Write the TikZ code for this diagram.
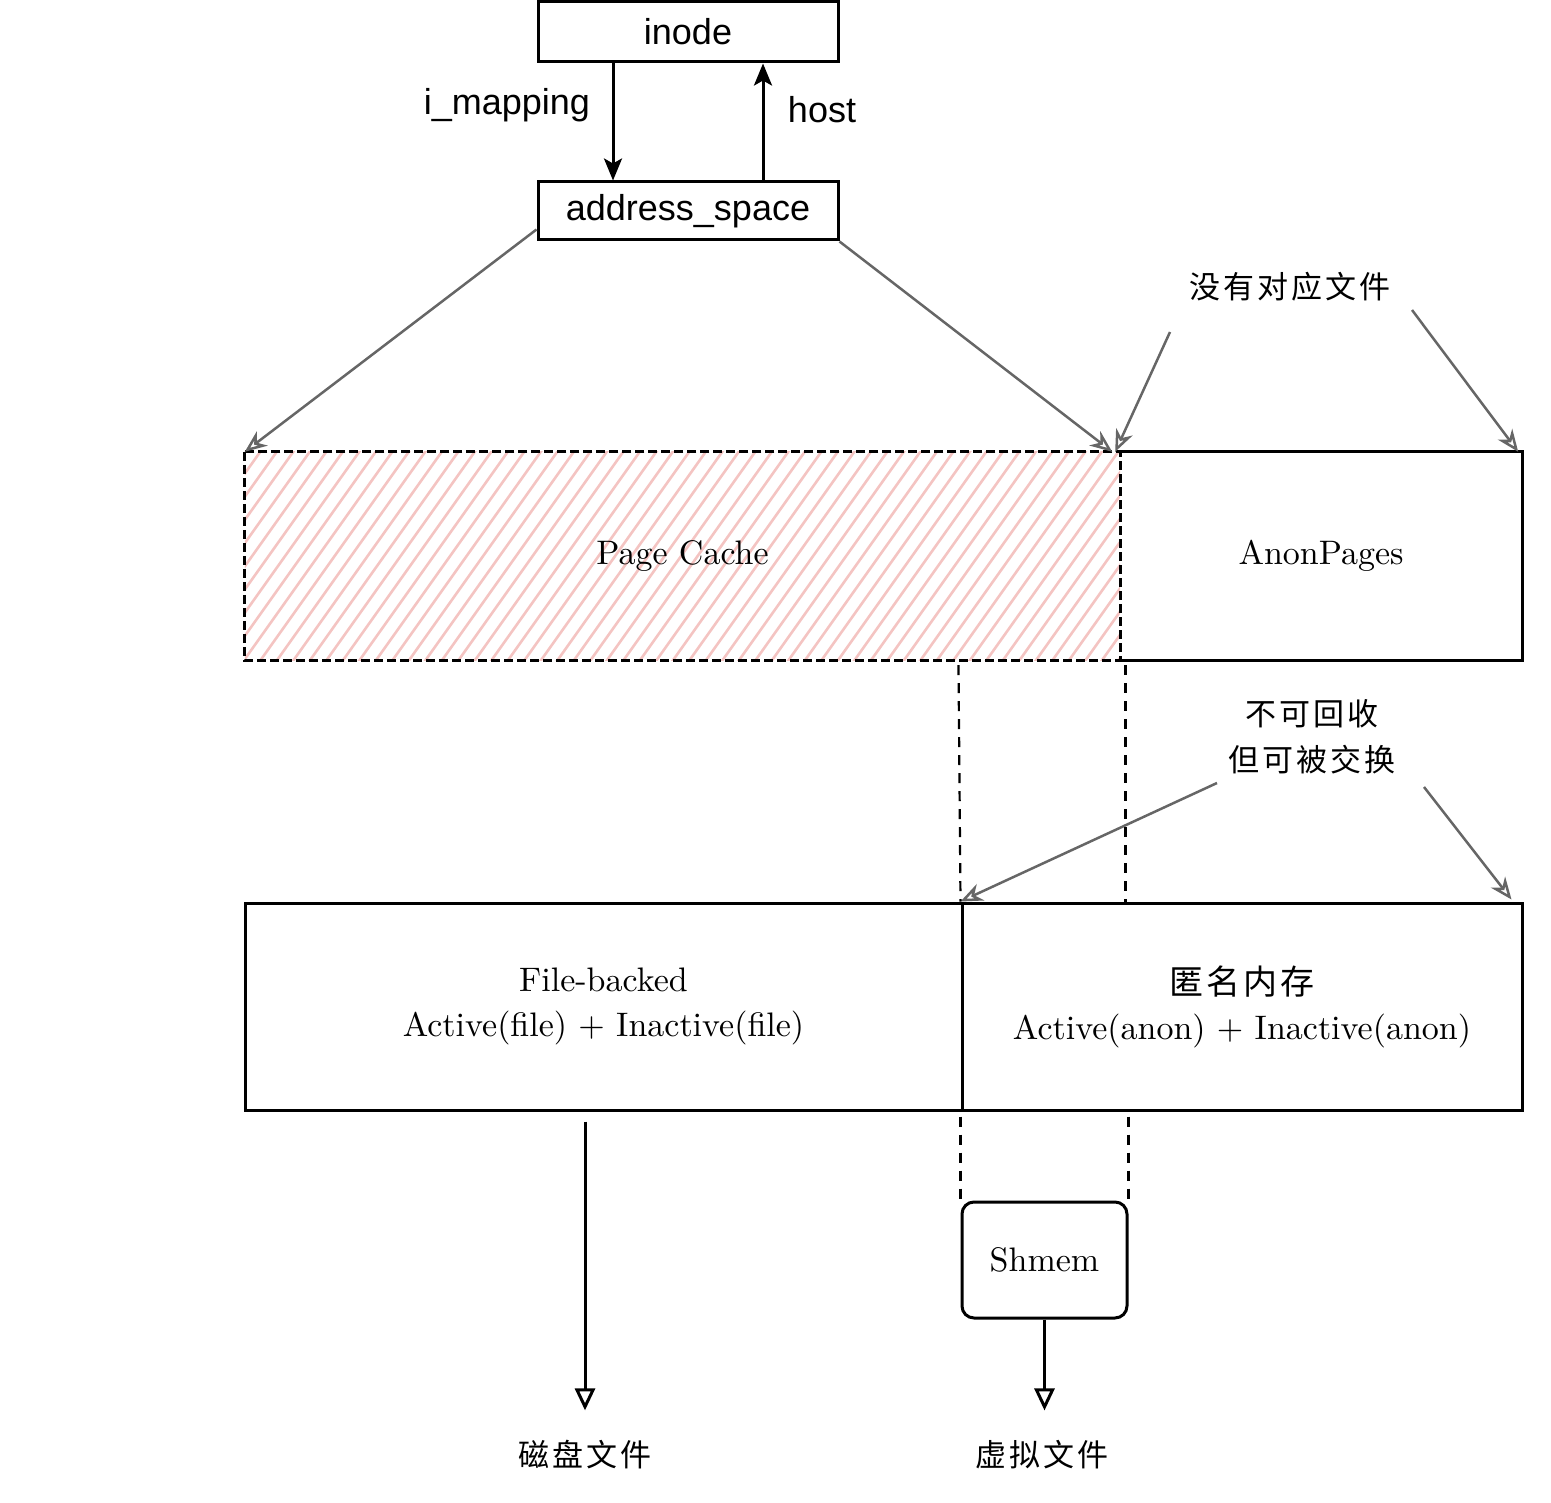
\documentclass[tikz,border=0pt]{standalone}
\usepackage{fontspec}
\usetikzlibrary{arrows.meta}
\newfontfamily\labelsans{Liberation Sans}
\newfontfamily\cjk{Noto Sans CJK SC}
\newfontfamily\bodyserif{lmroman10-regular}[Extension=.otf]
\definecolor{hatchpink}{RGB}{244,196,194}
\definecolor{leadgray}{RGB}{102,102,102}
% spaced CJK characters
\newcommand{\cs}{\kern3pt}

\begin{document}
\begin{tikzpicture}[x=1pt,y=-1pt,
  sansbox/.style={draw, line width=3pt, inner sep=0pt,
    font=\labelsans\fontsize{36}{42}\selectfont},
  plainbox/.style={inner sep=0pt, align=center,
    font=\bodyserif\fontsize{34}{45}\selectfont},
  sanslabel/.style={inner sep=0pt, font=\labelsans\fontsize{36}{42}\selectfont},
  note/.style={inner sep=0pt, align=center, font=\cjk\fontsize{31}{46}\selectfont},
  lead/.style={draw=leadgray, line width=2.5pt,
    -{Stealth[open, length=22pt, width=18pt, inset=7pt]}},
  link/.style={line width=3pt, -{Stealth[length=22pt, width=18pt, inset=5pt]}},
  outlink/.style={line width=3pt, -{Triangle[open, length=22pt, width=20pt]}},
  guide/.style={line width=2.2pt, dash pattern=on 10pt off 8pt},
]
\useasboundingbox (0,0) rectangle (1551,1503);

% --- inode / address_space ---
\node[sansbox, minimum width=300pt, minimum height=60pt] (inode) at (688,32) {inode};
\node[sansbox, minimum width=300pt, minimum height=58pt] (as) at (688,211) {address\_space};
\draw[link] ([xshift=-75pt]inode.south) -- ([xshift=-75pt]as.north);
\draw[link] ([xshift=75pt]as.north) -- ([xshift=75pt]inode.south);
\node[sanslabel] (imap) at (507,105) {i\_mapping};
\node[sanslabel] (host) at (822,110) {host};

% --- page cache / anon pages ---
\node[plainbox, minimum width=402pt, minimum height=208pt] (anon) at (1321,556) {AnonPages};
\draw[line width=3pt] (anon.north west) -- (anon.north east)
  -- (anon.south east) -- (anon.south west);
\node[plainbox, minimum width=875pt, minimum height=208pt] (pc) at (682.5,556) {};
\begin{scope}
  \clip (pc.north west) rectangle (pc.south east);
  \foreach \i in {0,...,66}
    \draw[hatchpink, line width=2.6pt] (90+\i*16.5,668) -- ++(160,-225);
\end{scope}
\draw[line width=3pt, dash pattern=on 9pt off 4pt] (pc.north west) rectangle (pc.south east);
\node[plainbox] (pclabel) at (pc.center) {Page Cache};

\draw[lead] ([yshift=12pt]as.south west) -- (pc.north west);
\draw[lead] (as.south east) -- ([xshift=-8pt]pc.north east);

\node[note] (nofile) at (1290,287) {没\cs 有\cs 对\cs 应\cs 文\cs 件};
\coordinate (nf1) at (1170,332);
\coordinate (nf2) at (1412,310);
\draw[lead] (nf1) -- ([xshift=-5pt]pc.north east);
\draw[lead] (nf2) -- ([xshift=-4pt]anon.north east);

% --- LRU lists ---
\node[plainbox, draw, line width=3pt, minimum width=717pt, minimum height=207pt] (fb)
  at (603.5,1006.5) {File-backed\\Active(file) + Inactive(file)};
\node[plainbox, draw, line width=3pt, minimum width=560pt, minimum height=207pt] (an)
  at (1242,1006.5) {{\cjk 匿\cs 名\cs 内\cs 存}\\Active(anon) + Inactive(anon)};

\node[note] (swap) at (1312,737) {不\cs 可\cs 回\cs 收\\但\cs 可\cs 被\cs 交\cs 换};
\coordinate (sw1) at (1217,783);
\coordinate (sw2) at (1424,787);
\draw[lead] (sw1) -- (an.north west);
\draw[lead] (sw2) -- ([xshift=-12pt,yshift=2pt]an.north east);

% --- shmem ---
\node[plainbox, draw, line width=3pt, rounded corners=12pt,
  minimum width=165pt, minimum height=116pt] (shm) at (1044.5,1260) {Shmem};

\draw[guide] ([xshift=-2pt,yshift=-5pt]shm.north west |- pc.south) -- (shm.north west |- fb.north);
\draw[guide] ([xshift=-3pt,yshift=-5pt]shm.north east |- pc.south) -- ([xshift=-3pt]shm.north east |- fb.north);
\draw[guide] ([yshift=-5pt]shm.north west |- fb.south) -- (shm.north west);
\draw[guide] ([yshift=-5pt]shm.north east |- fb.south) -- (shm.north east);

% --- backing stores ---
\node[note] (disk) at (585,1455) {磁\cs 盘\cs 文\cs 件};
\node[note] (virt) at (1042,1455) {虚\cs 拟\cs 文\cs 件};
\draw[outlink] (fb.south -| disk.north) ++(0,10) -- ([yshift=30pt]disk.north);
\draw[outlink] (shm.south) -- ([yshift=30pt]shm.south |- virt.north);
\end{tikzpicture}
\end{document}
